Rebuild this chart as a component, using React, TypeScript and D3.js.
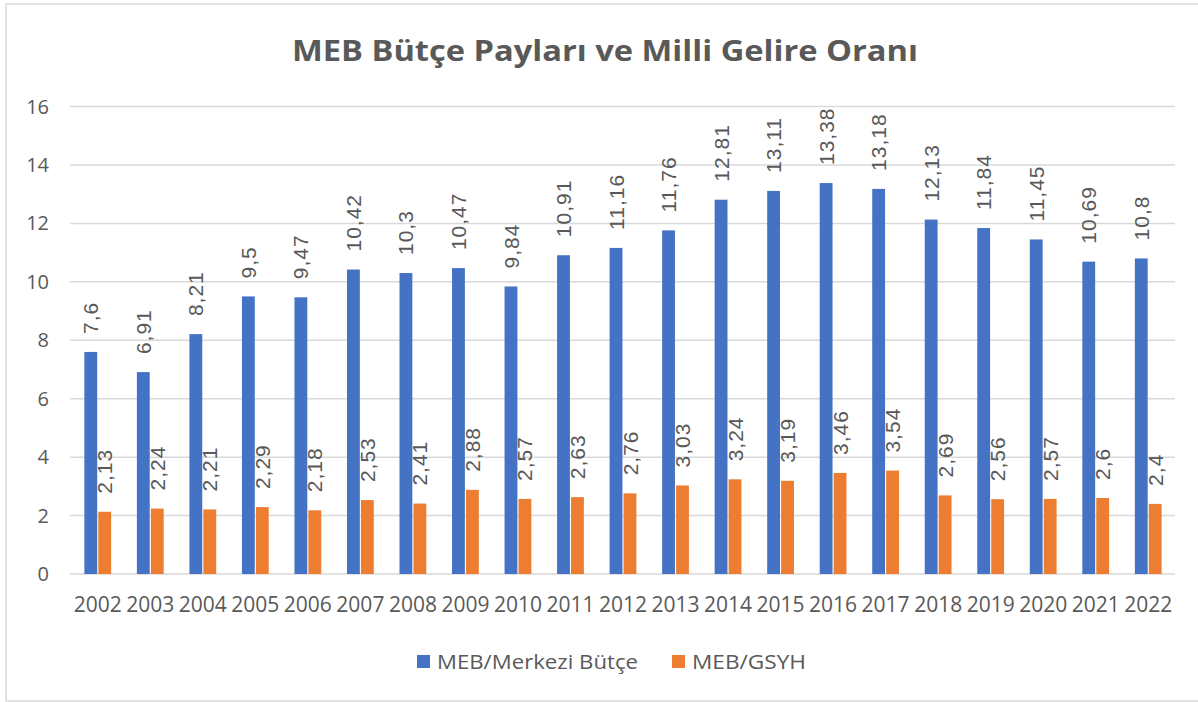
import React from 'react';
import * as d3 from 'd3';

const years = ['2002', '2003', '2004', '2005', '2006', '2007', '2008', '2009', '2010', '2011', '2012', '2013', '2014', '2015', '2016', '2017', '2018', '2019', '2020', '2021', '2022'];
const merkeziButce = [7.6, 6.91, 8.21, 9.5, 9.47, 10.42, 10.3, 10.47, 9.84, 10.91, 11.16, 11.76, 12.81, 13.11, 13.38, 13.18, 12.13, 11.84, 11.45, 10.69, 10.8];
const gsyh = [2.13, 2.24, 2.21, 2.29, 2.18, 2.53, 2.41, 2.88, 2.57, 2.63, 2.76, 3.03, 3.24, 3.19, 3.46, 3.54, 2.69, 2.56, 2.57, 2.6, 2.4];
const yTicks = [0, 2, 4, 6, 8, 10, 12, 14, 16];
const seriesNames = ['MEB/Merkezi Bütçe', 'MEB/GSYH'];
const seriesColors = ['#4472C4', '#ED7D31'];

const W = 1198;
const H = 702;
const TEXT = '#595959';
const GRID = '#d9d9d9';
const FONT = '"Open Sans", sans-serif';
const LABEL_FONT = '"Liberation Sans", Arial, sans-serif';

// swap '.' for ',' like the Turkish locale
const fmt = (v: number) => String(v).replace('.', ',');

export default function App() {
  const x0 = d3.scaleBand<string>().domain(years).range([71.5, 1174.5]).paddingInner(0.49).paddingOuter(0.245);
  const x1 = d3.scaleBand<number>().domain([0, 1]).range([0, x0.bandwidth()]).paddingInner(0.08);
  const y = d3.scaleLinear().domain([0, 16]).range([574, 106.5]);

  const series = [merkeziButce, gsyh];
  const legendX = [417, 672];
  const legendLen = [201, 114];

  return (
    <svg width={W} height={H} style={{ position: 'absolute', left: 0, top: 0, background: '#fff' }}>
      <rect x={6} y={4} width={1200} height={697} fill="#fff" stroke={GRID} strokeWidth={1.5} />

      <text x={605} y={61} textAnchor="middle" fontFamily={FONT} fontWeight="bold" fontSize={28} fill={TEXT}
        textLength={626} lengthAdjust="spacingAndGlyphs">
        MEB Bütçe Payları ve Milli Gelire Oranı
      </text>

      {/* gridlines + y ticks */}
      {yTicks.map(t => (
        <g key={t}>
          <line x1={70} x2={1175} y1={y(t)} y2={y(t)} stroke={GRID} strokeWidth={1.5} />
          <text x={49} y={y(t)} dy="0.35em" textAnchor="end" fontFamily={FONT} fontSize={20} fill={TEXT}>{t}</text>
        </g>
      ))}

      {/* bars */}
      {series.map((vals, si) => (
        <g key={si}>
          {vals.map((v, i) => {
            const bx = x0(years[i])! + x1(si)!;
            return (
              <rect key={i} x={bx} y={y(v)} width={x1.bandwidth()} height={y(0) - y(v)} fill={seriesColors[si]} />
            );
          })}
        </g>
      ))}

      {/* data labels, rotated */}
      {series.map((vals, si) => (
        <g key={'l' + si}>
          {vals.map((v, i) => {
            const cx = x0(years[i])! + x1(si)! + x1.bandwidth() / 2;
            const ty = y(v) - 18;
            return (
              <text key={i} transform={`translate(${cx},${ty}) rotate(-90)`} dy="0.36em" textAnchor="start"
                fontFamily={LABEL_FONT} fontSize={21} letterSpacing={1} fill={TEXT}>
                {fmt(v)}
              </text>
            );
          })}
        </g>
      ))}

      {/* x axis labels */}
      {years.map(yr => (
        <text key={yr} x={x0(yr)! + x0.bandwidth() / 2} y={612} textAnchor="middle" fontFamily={FONT} fontSize={21} fill={TEXT}>
          {yr}
        </text>
      ))}

      {/* legend */}
      {seriesNames.map((name, i) => (
        <g key={name}>
          <rect x={legendX[i]} y={655} width={13} height={13} fill={seriesColors[i]} />
          <text x={legendX[i] + 20} y={669} fontFamily={FONT} fontSize={20} fill={TEXT}
            textLength={legendLen[i]} lengthAdjust="spacingAndGlyphs">{name}</text>
        </g>
      ))}
    </svg>
  );
}
